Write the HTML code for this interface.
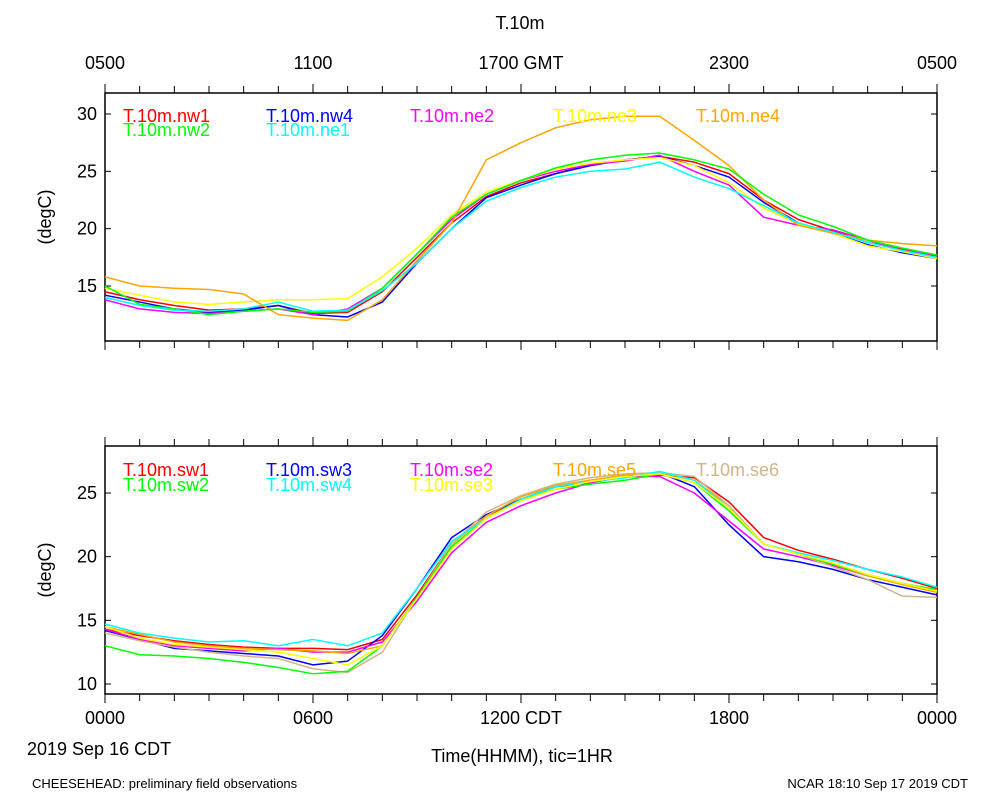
<!DOCTYPE html>
<html><head><meta charset="utf-8"><style>
body{margin:0;background:#fff;}
svg text{font-family:"Liberation Sans",sans-serif;}
</style></head><body>
<svg id="chart" width="1000" height="800" xmlns="http://www.w3.org/2000/svg">
<text x="520" y="29" font-size="18" text-anchor="middle">T.10m</text>
<text x="105" y="69" font-size="18" text-anchor="middle">0500</text>
<text x="313" y="69" font-size="18" text-anchor="middle">1100</text>
<text x="521" y="69" font-size="18" text-anchor="middle">1700 GMT</text>
<text x="729" y="69" font-size="18" text-anchor="middle">2300</text>
<text x="937" y="69" font-size="18" text-anchor="middle">0500</text>
<text x="105" y="724" font-size="18" text-anchor="middle">0000</text>
<text x="313" y="724" font-size="18" text-anchor="middle">0600</text>
<text x="521" y="724" font-size="18" text-anchor="middle">1200 CDT</text>
<text x="729" y="724" font-size="18" text-anchor="middle">1800</text>
<text x="937" y="724" font-size="18" text-anchor="middle">0000</text>
<text x="27" y="755" font-size="18">2019 Sep 16 CDT</text>
<text x="522" y="762" font-size="18" text-anchor="middle">Time(HHMM), tic=1HR</text>
<text x="32" y="788" font-size="13">CHEESEHEAD: preliminary field observations</text>
<text x="968" y="788" font-size="13" text-anchor="end">NCAR 18:10 Sep 17 2019 CDT</text>
<text transform="translate(51,217) rotate(-90)" font-size="18" text-anchor="middle">(degC)</text>
<text transform="translate(51,570) rotate(-90)" font-size="18" text-anchor="middle">(degC)</text>
<g id="g"></g>
</svg>
<script>
const hours=[0,1,2,3,4,5,6,7,8,9,10,11,12,13,14,15,16,17,18,19,20,21,22,23,24];
const topTicks=[15,20,25,30];
const botTicks=[10,15,20,25];
const nw1=[14.5,13.8,13.3,12.9,13.0,13.3,12.6,12.7,14.5,17.5,20.5,22.8,24.0,24.8,25.6,26.0,26.3,25.8,24.8,22.5,20.8,19.8,18.8,18.2,17.6];
const nw4=[14.2,13.6,13.0,12.7,12.9,13.3,12.5,12.3,13.6,17.0,20.0,22.7,23.8,24.8,25.5,26.0,26.3,25.5,24.5,22.3,20.5,19.6,18.6,17.9,17.4];
const nw2=[15.0,13.4,13.0,12.5,12.8,13.0,12.7,12.8,14.8,17.8,21.0,23.0,24.2,25.3,26.0,26.4,26.6,26.0,25.2,23.0,21.2,20.2,19.0,18.3,17.7];
const ne1=[14.0,13.3,12.9,12.8,13.0,13.6,12.8,12.9,14.6,17.0,20.0,22.4,23.6,24.5,25.0,25.2,25.8,24.5,23.5,22.0,20.5,19.7,18.8,18.1,17.5];
const ne2=[13.8,13.0,12.7,12.6,12.8,13.0,12.5,13.0,14.8,17.8,20.8,23.0,24.2,25.0,25.6,25.9,26.4,25.0,23.8,21.0,20.3,19.9,19.0,18.1,17.7];
const ne3=[14.8,14.2,13.6,13.4,13.6,13.8,13.8,13.9,15.8,18.3,21.2,23.2,24.2,25.2,25.7,26.0,26.2,25.5,24.0,21.8,20.4,19.6,18.5,18.0,17.4];
const ne4=[15.8,15.0,14.8,14.7,14.3,12.5,12.2,12.0,13.8,17.2,20.5,26.0,27.5,28.8,29.5,29.8,29.8,27.7,25.5,22.5,20.3,19.6,19.0,18.7,18.5];
const sw1=[14.3,13.8,13.4,13.1,12.9,12.8,12.8,12.7,13.5,17.0,21.0,23.2,24.5,25.5,26.0,26.3,26.4,26.2,24.3,21.5,20.5,19.8,19.0,18.3,17.5];
const sw3=[14.2,13.5,12.8,12.6,12.4,12.2,11.5,11.8,13.8,17.5,21.5,23.3,24.5,25.5,25.8,26.3,26.6,25.5,22.5,20.0,19.6,19.0,18.2,17.6,17.0];
const sw2=[13.0,12.3,12.2,12.0,11.7,11.3,10.8,11.0,13.0,16.8,20.8,23.0,24.5,25.3,25.7,26.0,26.5,25.8,23.6,21.0,20.2,19.4,18.6,17.9,17.4];
const sw4=[14.7,14.0,13.6,13.3,13.4,13.0,13.5,13.0,14.0,17.5,21.2,23.0,24.5,25.5,25.9,26.2,26.7,26.0,23.8,21.0,20.3,19.7,19.0,18.4,17.6];
const se2=[14.3,13.5,13.0,12.8,12.6,12.8,12.5,12.5,13.3,16.5,20.3,22.7,24.0,25.0,25.8,26.3,26.3,25.0,22.8,20.6,20.0,19.3,18.5,17.9,17.3];
const se3=[14.5,13.6,13.1,12.9,12.7,12.5,12.0,11.5,13.0,16.7,20.6,23.0,24.4,25.3,25.9,26.3,26.5,25.8,23.8,21.0,20.2,19.5,18.6,17.9,17.3];
const se5=[14.5,13.9,13.3,13.0,12.8,12.7,12.6,12.4,13.0,16.8,21.0,23.2,24.7,25.6,26.0,26.4,26.6,26.0,24.0,21.0,20.2,19.4,18.5,17.8,17.2];
const se6=[14.0,13.4,12.9,12.5,12.2,12.0,11.2,10.9,12.5,16.8,21.0,23.5,24.8,25.7,26.2,26.5,26.6,26.3,24.0,21.0,20.2,19.2,18.2,16.9,16.8];

const NS='http://www.w3.org/2000/svg';
const g=document.getElementById('g');
function mk(t,a){const e=document.createElementNS(NS,t);for(const k in a)e.setAttribute(k,a[k]);g.appendChild(e);return e;}
const X0=105,X1=937;
function xs(h){return X0+(X1-X0)*h/24;}
function panel(top,bot,vLo,yLo,vHi,yHi,ticks,series,name){
  const ys=v=>yLo+(v-vLo)*(yHi-yLo)/(vHi-vLo);
  const fr=mk('rect',{x:X0,y:top,width:X1-X0,height:bot-top,fill:'none',stroke:'#000','stroke-width':1.5});
  
  
  for(let h=0;h<=24;h++){
    const L=h%6===0?9:7;
    const t1=mk('line',{x1:xs(h),x2:xs(h),y1:top,y2:top-L,stroke:'#000','stroke-width':1});
    
    
    const t2=mk('line',{x1:xs(h),x2:xs(h),y1:bot,y2:bot+L,stroke:'#000','stroke-width':1});
    
    
  }
  ticks.forEach(v=>{
    const y=ys(v);
    const a=mk('line',{x1:X0,x2:X0+6,y1:y,y2:y,stroke:'#000'});
    
    
    const b=mk('line',{x1:X1,x2:X1-6,y1:y,y2:y,stroke:'#000'});
    
    
    const t=mk('text',{x:X0-8,y:y+6,'font-size':18,'text-anchor':'end'});
    t.textContent=v;
    
    
  });
  series.forEach(s=>{
    const p=mk('polyline',{points:s.d.map((v,i)=>xs(hours[i])+','+ys(v)).join(' '),fill:'none',stroke:s.c,'stroke-width':1.5,'stroke-linejoin':'round'});
    
    
  });
  series.forEach(s=>{
    const t=mk('text',{x:s.lx,y:s.ly,'font-size':18,fill:s.c});
    t.textContent='T.10m.'+s.n;
    
    
  });
}
panel(93,341,15,286,30,114,topTicks,[
 {n:'nw1',d:nw1,c:'#ff0000',lx:123,ly:122},
 {n:'nw4',d:nw4,c:'#0000ff',lx:266,ly:122},
 {n:'ne2',d:ne2,c:'#ff00ff',lx:410,ly:122},
 {n:'ne3',d:ne3,c:'#ffff00',lx:553,ly:122},
 {n:'ne4',d:ne4,c:'#ffa500',lx:696,ly:122},
 {n:'nw2',d:nw2,c:'#00ff00',lx:123,ly:136},
 {n:'ne1',d:ne1,c:'#00ffff',lx:266,ly:136}
],'top-panel');
panel(446,694,10,684,25,493,botTicks,[
 {n:'sw1',d:sw1,c:'#ff0000',lx:123,ly:476},
 {n:'sw3',d:sw3,c:'#0000ff',lx:266,ly:476},
 {n:'se2',d:se2,c:'#ff00ff',lx:410,ly:476},
 {n:'se5',d:se5,c:'#ffa500',lx:553,ly:476},
 {n:'se6',d:se6,c:'#d2b48c',lx:696,ly:476},
 {n:'sw2',d:sw2,c:'#00ff00',lx:123,ly:491},
 {n:'sw4',d:sw4,c:'#00ffff',lx:266,ly:491},
 {n:'se3',d:se3,c:'#ffff00',lx:410,ly:491}
],'bottom-panel');
</script>
</body></html>
